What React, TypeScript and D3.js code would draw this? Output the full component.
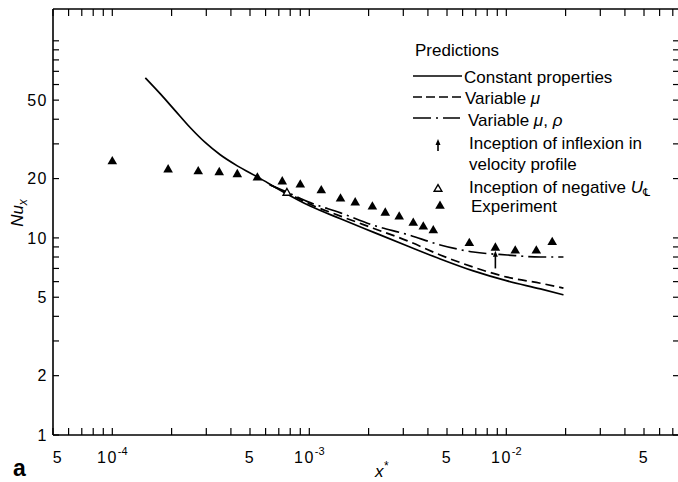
import React from "react";
import * as d3 from "d3";

const W = 678;
const H = 482;

// Experiment (filled triangles)
const expX = [1.0e-4, 1.92e-4, 2.73e-4, 3.49e-4, 4.31e-4, 5.45e-4, 7.29e-4, 9.0e-4, 1.15e-3, 1.44e-3, 1.71e-3, 2.09e-3, 2.43e-3, 2.86e-3, 3.37e-3, 3.79e-3, 4.26e-3, 6.49e-3, 8.8e-3, 1.11e-2, 1.42e-2, 1.71e-2];
const expNu = [24.4, 22.2, 21.7, 21.5, 21.0, 20.2, 19.3, 18.6, 17.4, 15.8, 15.1, 14.4, 13.4, 12.8, 11.9, 11.4, 10.9, 9.4, 8.9, 8.6, 8.6, 9.5];

// Constant properties (solid)
const constX = [1.471e-4, 1.754e-4, 2.09e-4, 2.49e-4, 2.97e-4, 3.53e-4, 4.31e-4, 5.45e-4, 7.38e-4, 1.01e-3, 1.44e-3, 2.11e-3, 3.15e-3, 4.62e-3, 6.8e-3, 1.01e-2, 1.49e-2, 1.95e-2];
const constNu = [64.9, 53.8, 44.1, 36.2, 30.4, 26.4, 23.2, 20.4, 17.1, 14.5, 12.5, 10.7, 9.1, 7.82, 6.8, 6.05, 5.51, 5.14];

// Variable mu (dashed)
const muX = [6.3e-4, 7.38e-4, 1.01e-3, 1.44e-3, 2.11e-3, 3.15e-3, 4.62e-3, 6.8e-3, 1.01e-2, 1.49e-2, 1.95e-2];
const muNu = [18.6, 17.3, 14.8, 12.9, 11.2, 9.66, 8.19, 7.11, 6.32, 5.89, 5.56];

// Variable mu, rho (dash-dot)
const muRhoX = [6.3e-4, 7.38e-4, 1.01e-3, 1.44e-3, 2.11e-3, 3.15e-3, 4.62e-3, 6.8e-3, 1.01e-2, 1.49e-2, 1.95e-2];
const muRhoNu = [18.6, 17.4, 15.1, 13.4, 11.6, 10.4, 9.21, 8.48, 8.19, 8.0, 8.0];

// Inception markers
const negUX = [7.7e-4];
const negUNu = [16.9];
const inflexX = [8.8e-3];
const inflexNuFrom = [7.0];
const inflexNuTo = [8.6];

// Axis ticks / labels
const xDomain = [5e-5, 0.075];
const yDomain = [1, 145];
const xLabelValues = [5e-5, 1e-4, 5e-4, 1e-3, 5e-3, 1e-2, 5e-2];
const xLabelMantissa = ["5", "10", "5", "10", "5", "10", "5"];
const xLabelExponent = ["", "-4", "", "-3", "", "-2", ""];
const yLabelValues = [1, 2, 5, 10, 20, 50];
const yLabelTexts = ["1", "2", "5", "10", "20", "50"];

const legendTitle = "Predictions";

const FONT = "'Liberation Sans', Arial, Helvetica, sans-serif";

function logTicks(min: number, max: number) {
  const out: number[] = [];
  for (let e = Math.floor(Math.log10(min)); e <= Math.ceil(Math.log10(max)); e++) {
    for (let k = 1; k <= 9; k++) {
      const v = k * Math.pow(10, e);
      if (v >= min * 0.9999 && v <= max * 1.0001) out.push(v);
    }
  }
  return out;
}

export default function App() {
  const left = 53;
  const bottom = 435;
  const top = 9;
  const right = 678.7;

  const x = d3.scaleLog().domain(xDomain).range([left, right]);
  const y = d3.scaleLog().domain(yDomain).range([bottom, top]);

  const line = d3
    .line<[number, number]>()
    .x((d) => x(d[0]))
    .y((d) => y(d[1]))
    .curve(d3.curveMonotoneX);

  const constPts = constX.map((v, i) => [v, constNu[i]] as [number, number]);
  const muPts = muX.map((v, i) => [v, muNu[i]] as [number, number]);
  const muRhoPts = muRhoX.map((v, i) => [v, muRhoNu[i]] as [number, number]);

  const triFilled = d3.symbol(d3.symbolTriangle, 40)() as string;
  const triOpen = d3.symbol(d3.symbolTriangle, 26)() as string;

  const xTicks = logTicks(xDomain[0], xDomain[1]);
  const yTicks = logTicks(yDomain[0], yDomain[1]);

  const arrow = (cx: number, y0: number, y1: number, key: string) => (
    <g key={key}>
      <line x1={cx} x2={cx} y1={y0} y2={y1 + 4} stroke="#000" strokeWidth={1.6} />
      <path d={`M${cx},${y1} L${cx - 2.5},${y1 + 6} L${cx + 2.5},${y1 + 6} Z`} fill="#000" />
    </g>
  );

  const legX0 = 413;
  const legX1 = 462;

  return (
    <svg
      width={W}
      height={H}
      style={{ position: "absolute", left: 0, top: 0, background: "#fff" }}
      fontFamily={FONT}
    >
      <rect x={0} y={0} width={W} height={H} fill="#fff" />

      {/* frame */}
      <line x1={left} x2={left} y1={top} y2={bottom} stroke="#000" strokeWidth={1.6} />
      <line x1={left} x2={right} y1={bottom} y2={bottom} stroke="#000" strokeWidth={1.6} />
      <line x1={left} x2={right} y1={top} y2={top} stroke="#000" strokeWidth={1.6} />

      {/* x ticks */}
      {xTicks.map((v, i) => (
        <g key={"xt" + i}>
          <line x1={x(v)} x2={x(v)} y1={bottom} y2={bottom - 7} stroke="#000" strokeWidth={1.2} />
          <line x1={x(v)} x2={x(v)} y1={top} y2={top + 7} stroke="#000" strokeWidth={1.2} />
        </g>
      ))}
      {/* y ticks */}
      {yTicks.map((v, i) => (
        <g key={"yt" + i}>
          <line x1={left} x2={left + 6} y1={y(v)} y2={y(v)} stroke="#000" strokeWidth={1.2} />
          <line x1={W} x2={W - 5} y1={y(v)} y2={y(v)} stroke="#000" strokeWidth={1.2} />
        </g>
      ))}

      {/* x labels */}
      {xLabelValues.map((v, i) => (
        <text
          key={"xl" + i}
          x={x(v) + (v === xDomain[0] ? 5 : 0)}
          y={463}
          fontSize={16}
          textAnchor="middle"
          letterSpacing={1.5}
        >
          {xLabelMantissa[i]}
          {xLabelExponent[i] && (
            <tspan dy={-8} fontSize={11} letterSpacing={0}>
              {xLabelExponent[i]}
            </tspan>
          )}
        </text>
      ))}

      {/* y labels */}
      {yLabelValues.map((v, i) => (
        <text
          key={"yl" + i}
          x={48}
          y={y(v)}
          dy="0.35em"
          fontSize={16}
          textAnchor="end"
          letterSpacing={1.5}
        >
          {yLabelTexts[i]}
        </text>
      ))}

      {/* axis titles */}
      <text transform="translate(23,213) rotate(-90)" fontSize={17} fontStyle="italic" textAnchor="middle">
        Nu<tspan fontSize={12} dy={4}>x</tspan>
      </text>
      <text x={375} y={477} fontSize={17} fontStyle="italic">
        x<tspan dy={-7} fontSize={12}>*</tspan>
      </text>
      <text x={13} y={476} fontSize={23} fontWeight="bold">
        a
      </text>

      {/* curves */}
      <path d={line(constPts) as string} fill="none" stroke="#000" strokeWidth={1.7} />
      <path d={line(muPts) as string} fill="none" stroke="#000" strokeWidth={1.7} strokeDasharray="9,5" />
      <path d={line(muRhoPts) as string} fill="none" stroke="#000" strokeWidth={1.7} strokeDasharray="18,5,2,5" />

      {/* experiment */}
      {expX.map((v, i) => (
        <path key={"e" + i} d={triFilled} transform={`translate(${x(v)},${y(expNu[i])})`} fill="#000" />
      ))}

      {/* inception of negative U */}
      {negUX.map((v, i) => (
        <path
          key={"n" + i}
          d={triOpen}
          transform={`translate(${x(v)},${y(negUNu[i])})`}
          fill="#fff"
          stroke="#000"
          strokeWidth={1.4}
        />
      ))}

      {/* inflexion arrows */}
      {inflexX.map((v, i) => arrow(x(v), y(inflexNuFrom[i]), y(inflexNuTo[i]), "a" + i))}

      {/* legend */}
      <g fontSize={17}>
        <text x={415} y={56}>{legendTitle}</text>

        <line x1={legX0} x2={legX1} y1={76} y2={76} stroke="#000" strokeWidth={1.5} />
        <text x={464} y={83}>Constant properties</text>

        <line x1={legX0} x2={legX1} y1={97} y2={97} stroke="#000" strokeWidth={1.5} strokeDasharray="9,4" />
        <text x={465} y={104}>
          Variable <tspan fontStyle="italic">μ</tspan>
        </text>

        <line x1={legX0} x2={legX1 - 2} y1={118} y2={118} stroke="#000" strokeWidth={1.5} strokeDasharray="18,5,2,5" />
        <text x={468} y={126}>
          Variable <tspan fontStyle="italic">μ</tspan>, <tspan fontStyle="italic">ρ</tspan>
        </text>

        {arrow(438, 151, 139, "legArrow")}
        <text x={469} y={149}>Inception of inflexion in</text>
        <text x={469} y={170}>velocity profile</text>

        <path d={triOpen} transform="translate(438,189)" fill="#fff" stroke="#000" strokeWidth={1.4} />
        <text x={469} y={193}>
          Inception of negative <tspan fontStyle="italic">U</tspan>
          <tspan fontSize={11} dy={3} fontFamily="'DejaVu Sans', sans-serif">℄</tspan>
        </text>

        <path d={triFilled} transform="translate(440,206)" fill="#000" />
        <text x={471} y={212}>Experiment</text>
      </g>
    </svg>
  );
}
